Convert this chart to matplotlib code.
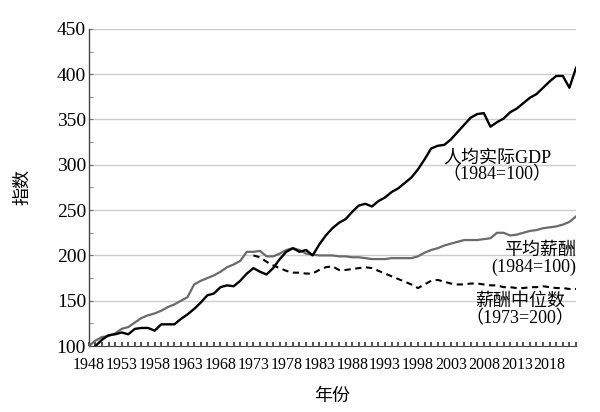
import numpy as np
import matplotlib
matplotlib.use("Agg")
import matplotlib.pyplot as plt
from matplotlib.ticker import MultipleLocator, FixedLocator

# ---- data ----
gdp_years = list(range(1949, 2023))
gdp = [100, 107, 112, 113, 115, 113, 119, 120, 120, 117,
       124, 124, 124, 130, 135, 141, 148, 156, 158, 165,
       167, 166, 172, 180, 186, 182, 179, 186, 196, 204,
       208, 204, 206, 200, 212, 222, 230, 236, 240, 248,
       255, 257, 254, 260, 264, 270, 274, 280, 286, 295,
       306, 318, 321, 322, 328, 336, 344, 352, 356, 357,
       342, 347, 351, 358, 362, 368, 374, 378, 385, 392,
       398, 398, 385, 407]

mean_years = list(range(1948, 2023))
mean_comp = [100, 106, 110, 111, 114, 119, 121, 126, 131, 134,
             136, 139, 143, 146, 150, 154, 168, 172, 175, 178,
             182, 187, 190, 194, 204, 204, 205, 199, 199, 202,
             206, 208, 206, 202, 201, 200, 200, 200, 199, 199,
             198, 198, 197, 196, 196, 196, 197, 197, 197, 197,
             199, 203, 206, 208, 211, 213, 215, 217, 217, 217,
             218, 219, 225, 225, 222, 223, 225, 227, 228, 230,
             231, 232, 234, 237, 243]

med_years = list(range(1973, 2023))
median_comp = [200, 198, 193, 189, 186, 183, 181, 181, 180, 180,
               184, 187, 188, 184, 184, 185, 186, 187, 186, 183,
               180, 177, 174, 171, 168, 164, 168, 172, 173, 171,
               169, 168, 168, 169, 169, 168, 167, 167, 165, 165,
               164, 164, 165, 165, 166, 165, 164, 164, 163, 163]

tick_years = list(range(1948, 2019, 5))

SERIF = ["Liberation Serif", "Noto Sans CJK SC"]
CJK = ["Noto Sans CJK SC", "DejaVu Sans"]

fig = plt.figure(figsize=(6.0, 4.12), dpi=100)
ax = fig.add_axes([0.148, 0.160, 0.812, 0.770])

ax.plot(mean_years, mean_comp, color="#6a6a6a", lw=1.6, zorder=3)
ax.plot(gdp_years, gdp, color="black", lw=1.7, zorder=4)
ax.plot(med_years, median_comp, color="black", lw=1.5, ls=(0, (3, 2.2)), zorder=3)

ax.set_xlim(1948, 2022)
ax.set_ylim(100, 450)

ax.yaxis.set_major_locator(MultipleLocator(50))
ax.yaxis.set_minor_locator(MultipleLocator(25))
ax.xaxis.set_major_locator(FixedLocator(tick_years))
ax.xaxis.set_minor_locator(MultipleLocator(1))

ax.grid(axis="y", which="major", color="#cccccc", lw=1.0, zorder=0)
for s in ["top", "right"]:
    ax.spines[s].set_visible(False)
ax.spines["left"].set_color("#444444")
ax.spines["bottom"].set_color("#444444")
ax.spines["left"].set_linewidth(1.0)
ax.spines["bottom"].set_linewidth(0.8)

ax.tick_params(axis="y", which="both", direction="in", length=3, color="#777777", pad=2)
ax.tick_params(axis="x", which="both", direction="in", length=3, width=1.2, color="#333333", pad=8)

for lab in ax.get_yticklabels():
    lab.set_family(SERIF)
    lab.set_fontsize(14)
for lab in ax.get_xticklabels():
    lab.set_family(SERIF)
    lab.set_fontsize(11.5)

ax.set_ylabel("指数", family=CJK, fontsize=13, labelpad=18)
ax.set_xlabel("年份", family=CJK, fontsize=13, labelpad=10)

ax.text(2010, 298, "人均实际GDP\n（1984=100）", family=SERIF, fontsize=13,
        ha="center", va="center", linespacing=1.0)
ax.text(2022, 196, "平均薪酬\n(1984=100)", family=SERIF, fontsize=13,
        ha="right", va="center", linespacing=1.0)
ax.text(2013.5, 140, "薪酬中位数\n（1973=200）", family=SERIF, fontsize=13,
        ha="center", va="center", linespacing=1.0)

fig.savefig("out.png", dpi=100, facecolor="white")
